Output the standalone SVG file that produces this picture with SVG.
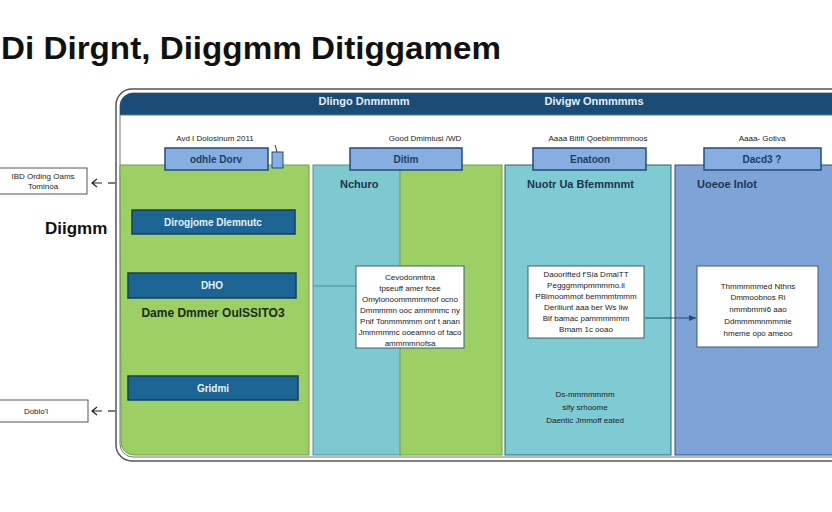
<svg xmlns="http://www.w3.org/2000/svg" width="832" height="512" viewBox="0 0 832 512">
<defs>
<style>
.t{font-family:"Liberation Sans",Arial,sans-serif}
.title{font-size:32px;font-weight:bold;fill:#111}
.hdr{font-size:11px;font-weight:bold;fill:#e8eef5}
.cap{font-size:8px;fill:#222}
.tab{fill:#86aee0;stroke:#1f4e7a;stroke-width:1.5}
.tabt{font-size:10px;font-weight:bold;fill:#1d3f66}
.bar{fill:#1b6494;stroke:#123f5e;stroke-width:1.5}
.bart{font-size:10px;font-weight:bold;fill:#e9f2f8}
.note{fill:#fff;stroke:#3b5e7a;stroke-width:1}
.nt{font-size:8px;fill:#222}
.lbl{font-size:11px;font-weight:bold;fill:#1d3550}
.side{fill:#fff;stroke:#555;stroke-width:1}
</style>
<marker id="ah" markerWidth="8" markerHeight="8" refX="7" refY="4" orient="auto" markerUnits="userSpaceOnUse">
<path d="M0,1 L7,4 L0,7 z" fill="#1f4e7a"/>
</marker>
</defs>

<text class="t title" x="1" y="59" textLength="500" lengthAdjust="spacingAndGlyphs">Di Dirgnt, Diiggmm Ditiggamem</text>

<g id="frame">
<rect x="116" y="89" width="740" height="372" rx="16" fill="#fff" stroke="#555" stroke-width="1.5"/>
<rect x="120" y="93" width="730" height="364" rx="13" fill="#fff" stroke="#777" stroke-width="1"/>
<path d="M120,115 V106 a13,13 0 0 1 13,-13 H832 V115 z" fill="#1a4c78"/>
<line x1="120" y1="115" x2="832" y2="115" stroke="#4d7aa3" stroke-width="1"/>
<text class="t hdr" x="364" y="105" text-anchor="middle">Dlingo Dnmmmm</text>
<text class="t hdr" x="594" y="105" text-anchor="middle">Divigw Onmmmms</text>
</g>

<g id="columns">
<path d="M120,165 H309 V455 H134 a13,13 0 0 1 -13,-13 z" fill="#9dd064" stroke="#6f9e49" stroke-width="1"/>
<rect x="313" y="165" width="88" height="290" fill="#7ec8cf" stroke="#4f8e96" stroke-width="1"/>
<rect x="400" y="165" width="102" height="290" fill="#9dd064" stroke="#6f9e49" stroke-width="1"/>
<line x1="313" y1="286" x2="356" y2="286" stroke="#4f8e96" stroke-width="1"/>
<rect x="505" y="165" width="166" height="290" fill="#7fcbd3" stroke="#2d5f7a" stroke-width="1"/>
<rect x="675" y="165" width="160" height="290" fill="#7ea3d7" stroke="#2d4f7a" stroke-width="1"/>
</g>

<g id="captions">
<text class="t cap" x="215" y="141" text-anchor="middle">Avd I Dolosinum 2011</text>
<text class="t cap" x="425" y="141" text-anchor="middle">Good Dmimiusi /WD</text>
<text class="t cap" x="598" y="141" text-anchor="middle">Aaaa Bitifi Qoebimmmmoos</text>
<text class="t cap" x="762" y="141" text-anchor="middle">Aaaa- Gotiva</text>
</g>

<g id="tab1"><rect class="tab" x="165" y="148" width="103" height="22"/><text class="t tabt" x="216" y="163" text-anchor="middle">odhle Dorv</text></g>
<g id="tab1icon"><rect x="272" y="152" width="11" height="16" fill="#86aee0" stroke="#1f4e7a" stroke-width="1"/><line x1="277" y1="152" x2="275" y2="145" stroke="#333" stroke-width="1"/></g>
<g id="tab2"><rect class="tab" x="350" y="148" width="112" height="22"/><text class="t tabt" x="406" y="163" text-anchor="middle">Ditim</text></g>
<g id="tab3"><rect class="tab" x="533" y="148" width="113" height="22"/><text class="t tabt" x="590" y="163" text-anchor="middle">Enatoon</text></g>
<g id="tab4"><rect class="tab" x="704" y="148" width="117" height="22"/><text class="t tabt" x="762" y="163" text-anchor="middle">Dacd3 ?</text></g>

<g id="bar1"><rect class="bar" x="132" y="210" width="163" height="24"/><text class="t bart" x="213" y="226" text-anchor="middle">Dirogjome Dlemnutc</text></g>
<g id="bar2"><rect class="bar" x="128" y="273" width="168" height="25"/><text class="t bart" x="212" y="289" text-anchor="middle">DHO</text></g>
<text class="t" x="213" y="317" text-anchor="middle" font-size="12" font-weight="bold" fill="#1b2a1a">Dame Dmmer OulSSITO3</text>
<g id="bar3"><rect class="bar" x="128" y="376" width="170" height="24"/><text class="t bart" x="213" y="392" text-anchor="middle">Gridmi</text></g>

<text class="t" x="45" y="234" font-size="17" font-weight="bold" fill="#111">Diigmm</text>

<g id="side1"><rect class="side" x="-1" y="168" width="88" height="26"/>
<text class="t nt" x="43" y="179" text-anchor="middle">IBD Ording Oams</text>
<text class="t nt" x="43" y="189" text-anchor="middle">Tominoa</text></g>
<g id="side2"><rect class="side" x="-1" y="400" width="89" height="22"/>
<text class="t nt" x="36" y="414" text-anchor="middle">Doblo'l</text></g>

<g id="connectors" fill="none" stroke="#222" stroke-width="1.2">
<line x1="108" y1="183" x2="115" y2="183"/>
<path d="M97,179 L92,183 L97,187 M92,183 H102"/>
<line x1="108" y1="411" x2="115" y2="411"/>
<path d="M97,407 L92,411 L97,415 M92,411 H102"/>
<line x1="645" y1="318" x2="696" y2="318" stroke="#1f4e7a" marker-end="url(#ah)"/>
</g>

<text class="t lbl" x="340" y="188">Nchuro</text>
<text class="t lbl" x="527" y="188">Nuotr Ua Bfemmnmt</text>
<text class="t lbl" x="697" y="188">Uoeoe Inlot</text>

<g id="note1"><rect class="note" x="356" y="266" width="108" height="82"/>
<g class="t nt" text-anchor="middle">
<text x="410" y="280">Cevodonmtna</text>
<text x="410" y="291">tpseuff amer fcee</text>
<text x="410" y="302">Omylonoommmmmof ocno</text>
<text x="410" y="313">Dmmmmn ooc ammmmc ny</text>
<text x="410" y="324">Pnif Tonmmmmm onf t anan</text>
<text x="410" y="335">Jmmmmmc ooeamno of taco</text>
<text x="410" y="346">ammmmnofsa</text>
</g></g>

<g id="note2"><rect class="note" x="528" y="266" width="116" height="72"/>
<g class="t nt" text-anchor="middle">
<text x="586" y="277">Daoorifted f'Sia DmaiTT</text>
<text x="586" y="288">Pegggmmpmmmmo.il</text>
<text x="586" y="299">PBimoommot bemmmtmmm</text>
<text x="586" y="310">Deriliunt aaa ber Ws liw</text>
<text x="586" y="321">Bif bamac pammmmmm</text>
<text x="586" y="332">Bmam 1c ooao</text>
</g></g>

<g id="note3"><rect class="note" x="697" y="266" width="121" height="81"/>
<g class="t nt" text-anchor="middle">
<text x="758" y="289">Thmmmmmed Nthns</text>
<text x="758" y="300">Dmmoobnos Ri</text>
<text x="758" y="312">nmmbmmi6 aao</text>
<text x="758" y="324">Ddmmmmnmmmie</text>
<text x="758" y="336">hmeme opo ameoo</text>
</g></g>

<g class="t nt" text-anchor="middle" fill="#1d3f55">
<text x="585" y="397">Ds-mmmmmmm</text>
<text x="585" y="410">sify srhoome</text>
<text x="585" y="423">Daentic Jmmoff eated</text>
</g>
</svg>
